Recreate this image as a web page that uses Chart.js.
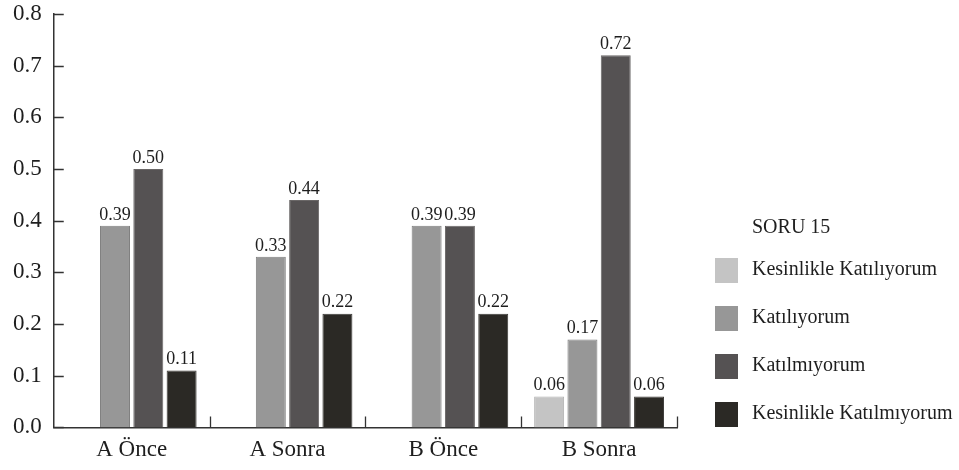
<!DOCTYPE html>
<html>
<head>
<meta charset="utf-8">
<script src="https://cdn.jsdelivr.net/npm/chart.js@4.4.1/dist/chart.umd.min.js"></script>
<style>
html,body{margin:0;padding:0;background:#fff;}
#kutu{width:959px;height:470px;}
</style>
</head>
<body>
<div id="kutu"><canvas id="myChart"></canvas></div>
<script>
let Gruplar=['A Önce','A Sonra','B Önce','B Sonra'];
let KesinKatiliyorum=[0,0,0,0.06];
let Katiliyorum=[0.39,0.33,0.39,0.17];
let Katilmiyorum=[0.50,0.44,0.39,0.72];
let KesinKatilmiyorum=[0.11,0.22,0.22,0.06];
let EksenDegerleri=[0,0.1,0.2,0.3,0.4,0.5,0.6,0.7,0.8];
let LegendBaslik='SORU 15';

const yazi='"Liberation Serif","Times New Roman",serif';
const koyu='#1e1e1e';

// kucuk tikler eksenin icine dogru
let tikler={
    id:'tikler',
    afterDraw(chart){
        const c=chart.ctx, a=chart.chartArea, x=chart.scales.x, y=chart.scales.y;
        c.save();
        c.strokeStyle='#333';
        c.lineWidth=1.3;
        c.beginPath();
        y.ticks.forEach(t=>{
            const py=Math.round(y.getPixelForValue(t.value))+0.5;
            c.moveTo(a.left,py);
            c.lineTo(a.left+10,py);
        });
        for(let i=0;i<Gruplar.length;i++){
            const px=Math.round(x.getPixelForValue(i+0.5))+0.5;
            c.moveTo(px,a.bottom);
            c.lineTo(px,a.bottom-11);
        }
        c.stroke();
        c.restore();
    }
};

// cubuklarin ustundeki degerler
let degerler={
    id:'degerler',
    afterDatasetsDraw(chart){
        const c=chart.ctx;
        c.save();
        c.font='18px '+yazi;
        c.fillStyle=koyu;
        c.textAlign='center';
        c.textBaseline='bottom';
        chart.data.datasets.forEach((ds,i)=>{
            chart.getDatasetMeta(i).data.forEach((bar,j)=>{
                if(ds.data[j]>0) c.fillText(ds.data[j].toFixed(2),bar.x,bar.y-2);
            });
        });
        c.restore();
    }
};

// sag taraftaki aciklama
let aciklama={
    id:'aciklama',
    afterDraw(chart){
        const c=chart.ctx, a=chart.chartArea;
        const x0=a.right+38;
        c.save();
        c.font='20px '+yazi;
        c.fillStyle=koyu;
        c.textBaseline='middle';
        c.fillText(LegendBaslik,x0+37,228);
        chart.data.datasets.forEach((ds,i)=>{
            const yc=270+i*48;
            c.fillStyle=ds.backgroundColor;
            c.fillRect(x0,yc-12,23,25);
            c.fillStyle=koyu;
            c.fillText(ds.label,x0+37,yc);
        });
        c.restore();
    }
};

let ctx=document.getElementById('myChart').getContext('2d');
let chart=new Chart(ctx,{
    type:'bar',
    data:{
        labels:Gruplar,
        datasets:[
            {label:'Kesinlikle Katılıyorum',data:KesinKatiliyorum,backgroundColor:'#c4c4c4',borderColor:'#b0b0b0',borderWidth:1},
            {label:'Katılıyorum',data:Katiliyorum,backgroundColor:'#979797',borderColor:'#7f7f7f',borderWidth:1},
            {label:'Katılmıyorum',data:Katilmiyorum,backgroundColor:'#555253',borderColor:'#6a6767',borderWidth:1},
            {label:'Kesinlikle Katılmıyorum',data:KesinKatilmiyorum,backgroundColor:'#2b2925',borderColor:'#3c3a37',borderWidth:1}
        ]
    },
    options:{
        responsive:true,
        maintainAspectRatio:false,
        animation:false,
        layout:{padding:{top:0,left:1,right:282,bottom:0}},
        datasets:{bar:{categoryPercentage:0.855,barPercentage:0.9}},
        plugins:{legend:{display:false},tooltip:{enabled:false}},
        scales:{
            x:{
                afterFit:ax=>{ax.height-=3;},
                grid:{display:false,drawTicks:false},
                border:{color:'#333',width:1.5},
                ticks:{color:koyu,font:{family:yazi,size:23,lineHeight:1.2},padding:9}
            },
            y:{
                min:0,max:0.8,
                afterBuildTicks:ax=>{ax.ticks=EksenDegerleri.map(v=>({value:v}));},
                afterFit:ax=>{ax.paddingTop=14;},
                grid:{display:false,drawTicks:false},
                border:{color:'#333',width:1.5},
                ticks:{color:koyu,font:{family:yazi,size:23,lineHeight:1},padding:12,callback:v=>Number(v).toFixed(1)}
            }
        }
    },
    plugins:[tikler,degerler,aciklama]
});
</script>
</body>
</html>
